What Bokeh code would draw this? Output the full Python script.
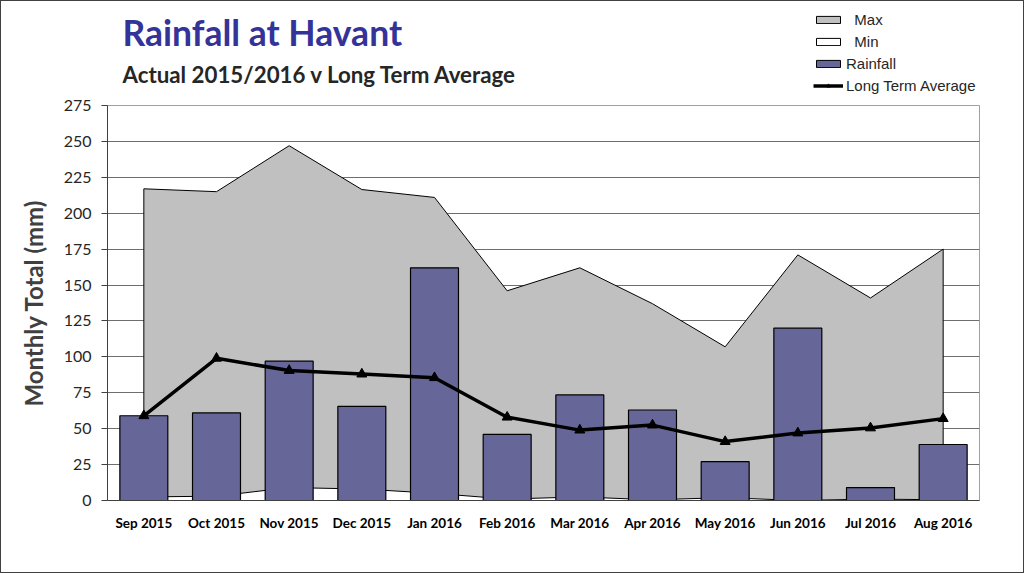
from bokeh.plotting import figure
from bokeh.layouts import column
from bokeh.models import (FactorRange, Range1d, FixedTicker, Label, Legend, LegendItem,
                          ColumnDataSource)
from bokeh.embed import file_html
from bokeh.resources import INLINE

months = ["Sep 2015", "Oct 2015", "Nov 2015", "Dec 2015", "Jan 2016", "Feb 2016",
          "Mar 2016", "Apr 2016", "May 2016", "Jun 2016", "Jul 2016", "Aug 2016"]
max_vals = [217, 215, 247, 216.5, 211, 146, 162, 137, 107, 171, 141, 175]
min_vals = [2.5, 3, 9, 8, 5, 1, 2.5, 0.5, 2, 0, 1, 0.5]
rainfall = [59, 61, 97, 65.5, 162, 46, 73.5, 63, 27, 120, 9, 39]
lta = [59, 99, 90.5, 88, 85.5, 58, 49, 52.5, 41, 47, 50.5, 57]
y_ticks = [0, 25, 50, 75, 100, 125, 150, 175, 200, 225, 250, 275]

CAL = "Lato"
W = 1022
HEAD_H = 94

# ---------- header (titles + legend) ----------
h = figure(width=W, height=HEAD_H, x_range=Range1d(0, W), y_range=Range1d(0, HEAD_H),
           output_backend="svg", toolbar_location=None, x_axis_type=None, y_axis_type=None,
           min_border=0)
if "frame_align" in h.properties():
    h.frame_align = False
h.grid.visible = False
h.outline_line_color = None
h.background_fill_color = "white"
h.border_fill_color = "white"

h.add_layout(Label(x=121, y=63, text="Rainfall at Havant", text_font=CAL, text_font_style="bold",
                   text_font_size="35.5px", text_color="#333399", text_baseline="alphabetic"))
h.add_layout(Label(x=121, y=21, text="Actual 2015/2016 v Long Term Average", text_font=CAL,
                   text_font_style="bold", text_font_size="22.3px", text_color="#262626",
                   text_baseline="alphabetic"))

nan = float("nan")
proxy = ColumnDataSource(data=dict(x=[nan], y=[nan]))
lg_max = h.rect(x="x", y="y", width=1, height=1, source=proxy, fill_color="#c0c0c0", line_color="black")
lg_min = h.rect(x="x", y="y", width=1, height=1, source=proxy, fill_color="white", line_color="black")
lg_rain = h.rect(x="x", y="y", width=1, height=1, source=proxy, fill_color="#666699", line_color="black")
lg_line = h.line(x="x", y="y", source=proxy, line_color="black", line_width=3.5)
lg_tri = h.scatter(x="x", y="y", source=proxy, marker="triangle", size=10, fill_color="black", line_color="black")

legend = Legend(items=[
    LegendItem(label="\u00a0\u00a0Max", renderers=[lg_max]),
    LegendItem(label="\u00a0\u00a0Min", renderers=[lg_min]),
    LegendItem(label="Rainfall", renderers=[lg_rain]),
    LegendItem(label="Long Term Average", renderers=[lg_line, lg_tri]),
], location=(812, 1))
legend.glyph_width = 30
legend.glyph_height = 9
legend.label_height = 14
legend.spacing = 5
legend.padding = 0
legend.margin = 0
legend.label_standoff = 3
legend.border_line_color = None
legend.background_fill_alpha = 0
legend.label_text_font = "Liberation Sans"
legend.label_text_font_size = "15px"
legend.label_text_color = "#262626"
h.add_layout(legend, "center")

# ---------- main chart ----------
p = figure(width=W, height=571 - HEAD_H, x_range=FactorRange(*months), y_range=Range1d(0, 275),
           output_backend="svg", toolbar_location=None,
           min_border_left=106, min_border_right=44, min_border_top=10, min_border_bottom=72)
if "frame_align" in p.properties():
    p.frame_align = False
p.background_fill_color = "white"
p.border_fill_color = "white"
p.outline_line_color = "#a0a0a0"
p.xgrid.grid_line_color = None
p.ygrid.grid_line_color = "#6e6e6e"
p.yaxis.ticker = FixedTicker(ticks=y_ticks)
p.x_range.range_padding = 0

p.yaxis.axis_label = "Monthly Total (mm)"
p.yaxis.axis_label_text_font = CAL
p.yaxis.axis_label_text_font_style = "bold"
p.yaxis.axis_label_text_font_size = "24px"
p.yaxis.axis_label_text_color = "#404040"
p.yaxis.axis_label_standoff = 13
p.yaxis.major_label_text_font = CAL
p.yaxis.major_label_text_font_size = "16px"
p.yaxis.major_label_text_color = "#262626"
p.yaxis.major_label_standoff = 10
p.yaxis.axis_line_color = "#404040"
p.yaxis.major_tick_line_color = "#404040"
p.yaxis.major_tick_out = 6
p.yaxis.major_tick_in = 0
p.yaxis.minor_tick_line_color = None

p.xaxis.major_label_text_font = CAL
p.xaxis.major_label_text_font_style = "bold"
p.xaxis.major_label_text_font_size = "13.5px"
p.xaxis.major_label_text_color = "black"
p.xaxis.major_label_standoff = 8
p.xaxis.axis_line_color = "#404040"
p.xaxis.major_tick_line_color = None
p.xaxis.minor_tick_line_color = None

xs_poly = months + [months[-1], months[0]]
p.patch(x=xs_poly, y=max_vals + [0, 0], fill_color="#c0c0c0", line_color="black", line_width=1)
p.patch(x=xs_poly, y=min_vals + [0, 0], fill_color="white", line_color="black", line_width=1)

p.vbar(x=months, top=rainfall, width=0.66, fill_color="#666699", line_color="black", line_width=1.2)

p.line(x=months, y=lta, line_color="black", line_width=3.5)
p.scatter(x=months, y=lta, marker="triangle", size=10, fill_color="black", line_color="black")

layout = column(h, p, spacing=0)
layout.styles = {"border": "1px solid #404040"}

open("out.html", "w").write(file_html(layout, INLINE))
